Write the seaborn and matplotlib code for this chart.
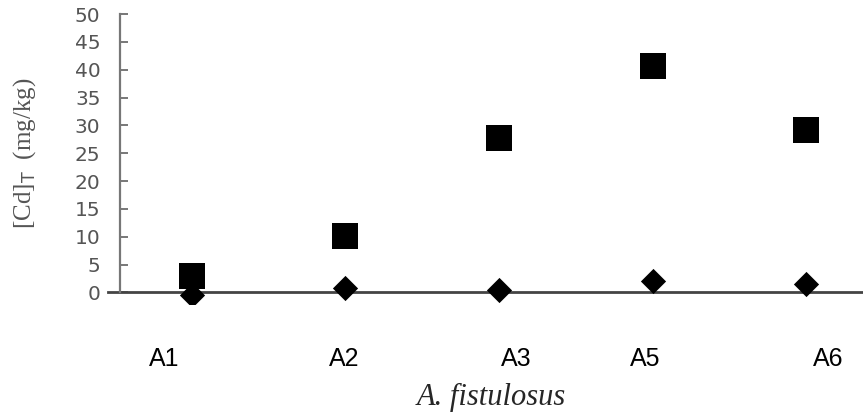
import matplotlib
matplotlib.use("Agg")
import matplotlib.pyplot as plt
import matplotlib.transforms as mtransforms
import seaborn as sns
import pandas as pd

categories = ["A1", "A2", "A3", "A5", "A6"]
square_values = [2.9, 10.2, 27.7, 40.7, 29.2]
diamond_values = [-0.4, 0.8, 0.4, 2.0, 1.5]
y_ticks = [0, 5, 10, 15, 20, 25, 30, 35, 40, 45, 50]

sns.set_style("white")
plt.rcParams["font.family"] = ["DejaVu Sans"]

W, H = 863, 412
fig = plt.figure(figsize=(W / 100, H / 100), dpi=100)
ax_left, ax_right = 108 / W, 1.0
ax_top_px, ax_bot_px = 14, 303.6
ax = fig.add_axes([ax_left, 1 - ax_bot_px / H, ax_right - ax_left, (ax_bot_px - ax_top_px) / H])

df_sq = pd.DataFrame({"cat": categories, "val": square_values})
df_di = pd.DataFrame({"cat": categories, "val": diamond_values})

sns.scatterplot(data=df_sq, x="cat", y="val", marker="s", s=355, color="black",
                edgecolor="black", linewidth=0, ax=ax, zorder=3)
sns.scatterplot(data=df_di, x="cat", y="val", marker="D", s=165, color="black",
                edgecolor="black", linewidth=0, ax=ax, zorder=4)

ax.set_xlim(-0.547, 4.371)
ax.set_ylim(-2, 50)

for s in ["top", "right"]:
    ax.spines[s].set_visible(False)
ax.spines["left"].set_position(("data", -0.469))
ax.spines["left"].set_bounds(0, 50)
ax.spines["left"].set_color("#777777")
ax.spines["left"].set_linewidth(1.6)
ax.spines["bottom"].set_position(("data", 0))
ax.spines["bottom"].set_color("#444444")
ax.spines["bottom"].set_linewidth(2.0)
ax.spines["bottom"].set_zorder(2)

ax.set_yticks(y_ticks)
ax.set_yticklabels([str(v) for v in y_ticks])
ax.tick_params(axis="y", direction="in", length=6, width=1.4, color="#777777",
               labelsize=14.5, labelcolor="#555555", pad=14, left=True)
ax.set_xticks(range(len(categories)))
ax.set_xticklabels(categories)
ax.tick_params(axis="x", length=0, pad=39, labelsize=18, labelcolor="black", bottom=True)
for lab in ax.get_xticklabels():
    lab.set_family(["Liberation Sans Narrow", "Liberation Sans", "DejaVu Sans"])

offsets_px = [-28, -1, 17, -7, 22]
for lab, off in zip(ax.get_xticklabels(), offsets_px):
    lab.set_transform(lab.get_transform() + mtransforms.ScaledTranslation(off / 100, 0, fig.dpi_scale_trans))

ax.set_xlabel("")
ax.set_ylabel("")
fig.text(491 / W, 1 - 397 / H, "A. fistulosus", ha="center", va="center",
         fontsize=22, fontstyle="italic", family=["Liberation Serif", "DejaVu Serif"])
fig.text(25 / W, 1 - 153 / H, r"[Cd]$_\mathrm{T}$  (mg/kg)", ha="center", va="center",
         rotation=90, fontsize=18, color="#555555", family=["Liberation Serif", "DejaVu Serif"])

ax.grid(False)
fig.savefig("out.png", dpi=100)
